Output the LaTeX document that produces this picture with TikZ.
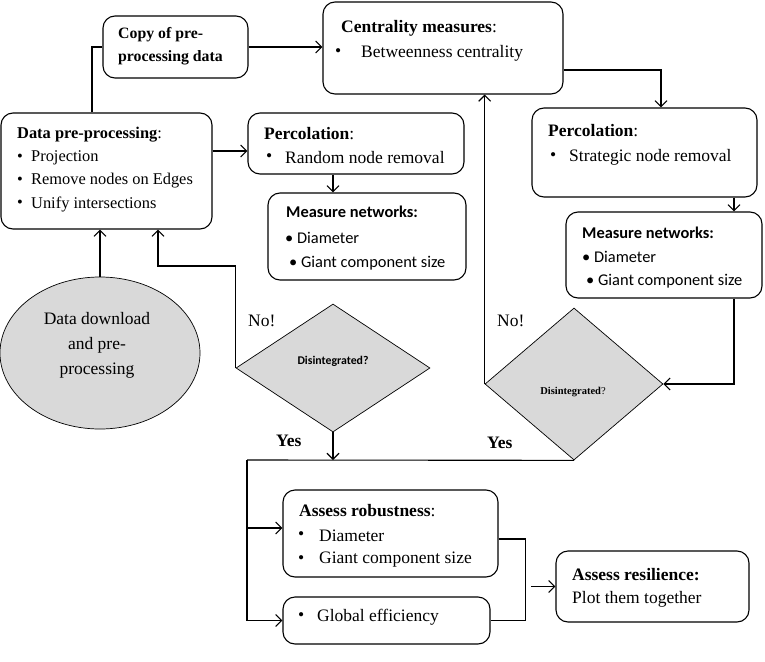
\documentclass[tikz,border=0pt]{standalone}
\usepackage{fontspec}
\setmainfont{Liberation Serif}
\newfontfamily\carl{Carlito}
\usetikzlibrary{arrows.meta,shapes.geometric}
\begin{document}
\begin{tikzpicture}[x=1pt,y=-1pt,
  box/.style={draw, rounded corners=12pt, line width=1.1pt, inner sep=0pt},
  shade/.style={draw, fill=black!15, line width=0.7pt, inner sep=0pt},
  txt/.style={anchor=west, inner sep=0pt, font=\fontsize{17.5}{20}\selectfont},
  txts/.style={anchor=west, inner sep=0pt, font=\fontsize{16.4}{19}\selectfont},
  txtc/.style={anchor=west, inner sep=0pt, font=\fontsize{15.8}{18}\selectfont\bfseries},
  sans/.style={anchor=west, inner sep=0pt, font=\carl\fontsize{16.4}{18}\selectfont},
  conn/.style={line width=1.1pt},
  arr/.style={line width=1.1pt, -{Straight Barb[length=6pt,width=12pt,line width=1.1pt]}}
]
\useasboundingbox (0,0) rectangle (765,661);

% boxes
\node[box, minimum width=145pt, minimum height=62pt] (copy) at (175.5,47) {};
\node[box, minimum width=240pt, minimum height=92pt] (cent) at (443,48) {};
\node[box, minimum width=211pt, minimum height=116pt] (prep) at (106.5,171) {};
\node[box, minimum width=216pt, minimum height=61pt] (percL) at (356,143.5) {};
\node[box, minimum width=198pt, minimum height=87pt] (measL) at (367,236.5) {};
\node[box, minimum width=225pt, minimum height=89pt] (percR) at (644.5,152.5) {};
\node[box, minimum width=196pt, minimum height=86pt] (measR) at (664,255) {};
\node[box, minimum width=215pt, minimum height=87pt] (rob) at (390.5,533.5) {};
\node[box, minimum width=207pt, minimum height=47pt] (glob) at (386.5,620.5) {};
\node[box, minimum width=193pt, minimum height=71pt] (res) at (652.5,586.5) {};

\node[shade, ellipse, minimum width=200pt, minimum height=152pt] (ell) at (100,353) {};
\node[shade, diamond, minimum width=194pt, minimum height=128pt] (diamL) at (333,368) {};
\node[shade, diamond, minimum width=178pt, minimum height=152pt] (diamR) at (574,384) {};

% texts
\node[txtc] (copyA) at (118,35) {Copy of pre-};
\node[txtc] (copyB) at (118,58) {processing data};

\node[txt] (centA) at (341,28) {\textbf{Centrality measures}:};
\node[txt] (centB) at (335,53) {\textbullet};
\node[txt] (centC) at (361,53) {Betweenness centrality};

\node[txts] (prepA) at (17,135) {\textbf{Data pre-processing}:};
\node[txts] (prepB1) at (17,158) {\textbullet};
\node[txts] (prepB2) at (31,158) {Projection};
\node[txts] (prepC1) at (17,181) {\textbullet};
\node[txts] (prepC2) at (31,181) {Remove nodes on Edges};
\node[txts] (prepD1) at (17,204) {\textbullet};
\node[txts] (prepD2) at (31,204) {Unify intersections};

\node[txt] (pLA) at (264,134) {\textbf{Percolation}:};
\node[txt] (pLB) at (266,158) {\textbullet};
\node[txt] (pLC) at (285,158) {Random node removal};

\node[sans] (mLA) at (286,212) {\bfseries Measure networks:};
\node[sans] (mLB) at (285,238) {\textbullet~Diameter};
\node[sans] (mLC) at (289,263) {\textbullet~Giant component size};

\node[txt] (pRA) at (548,131) {\textbf{Percolation}:};
\node[txt] (pRB) at (550,157) {\textbullet};
\node[txt] (pRC) at (569,157) {Strategic node removal};

\node[sans] (mRA) at (582,233) {\bfseries Measure networks:};
\node[sans] (mRB) at (582,257) {\textbullet~Diameter};
\node[sans] (mRC) at (586,281) {\textbullet~Giant component size};

\node[txt] (rA) at (299,511) {\textbf{Assess robustness}:};
\node[txt] (rB1) at (298,536) {\textbullet};
\node[txt] (rB2) at (319,536) {Diameter};
\node[txt] (rC1) at (298,560) {\textbullet};
\node[txt] (rC2) at (319,560) {Giant component size};

\node[txt] (gA) at (298,617) {\textbullet};
\node[txt] (gB) at (317,617) {Global efficiency};

\node[txt] (resA) at (572,575) {\textbf{Assess resilience:}};
\node[txt] (resB) at (572,599) {Plot them together};

\node[align=center, inner sep=0pt, font=\fontsize{17.5}{25}\selectfont] (ellT) at (97,345) {Data download\\and pre-\\processing};

\node[inner sep=0pt, font=\carl\fontsize{11.8}{14}\selectfont\bfseries] (dLT) at (333,361) {Disintegrated?};
\node[inner sep=0pt, font=\fontsize{10.5}{12}\selectfont] (dRT) at (573,392) {\textbf{Disintegrated}?};

\node[txt] (noL) at (248,321) {No!};
\node[txt] (noR) at (497,321) {No!};
\node[txt] (yesL) at (276,441) {\textbf{Yes}};
\node[txt] (yesR) at (487,443) {\textbf{Yes}};

% connectors
\draw[conn] ([xshift=-14.5pt]prep.north) |- (copy.west);
\draw[arr] (copy.east) -- (copy.east -| cent.west);
\draw[arr] ([yshift=-22pt]cent.east) -| ([xshift=16.5pt]percR.north);
\draw[arr] ([yshift=20pt]prep.east) -- ([yshift=20pt]prep.east -| percL.west);
\draw[arr] ([xshift=-23pt]percL.south) -- ([xshift=-34pt]measL.north);
\draw[arr] ([xshift=89.5pt]percR.south) -- ([xshift=70pt]measR.north);
\draw[arr] ([xshift=70pt]measR.south) |- (diamR.east);
\draw[arr] (diamR.west) -- (diamR.west |- cent.south);
\coordinate (jn) at (247,460);
\coordinate (robin) at ([yshift=5.5pt]rob.west);
\draw[conn] (diamR.south) -- (jn);
\draw[arr] (jn) |- (glob.west);
\draw[arr] (jn |- robin) -- (robin);
\draw[arr] (diamL.south) -- (diamL.south |- jn);
\draw[arr] (diamL.west) -- ++(0,-102) -| ([xshift=51.5pt]prep.south);
\draw[arr] (ell.north) -- (ell.north |- prep.south);
\draw[conn] ([yshift=-5.5pt]rob.east) -- ++(27,0) |- (glob.east);
\draw[arr] ([xshift=-24pt]res.west) -- (res.west);
\end{tikzpicture}
\end{document}
